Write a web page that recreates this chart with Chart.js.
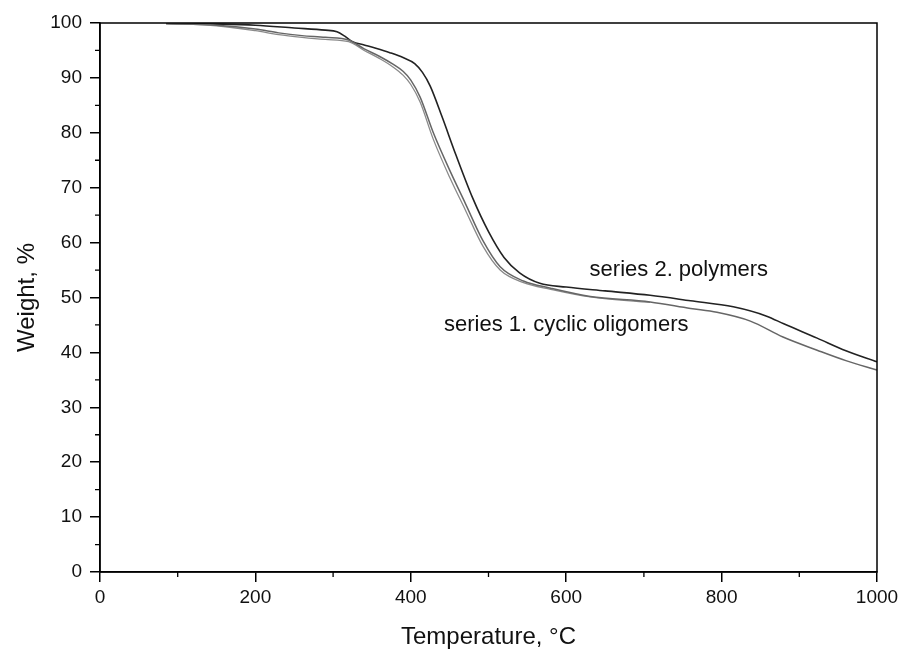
<!DOCTYPE html>
<html>
<head>
<meta charset="utf-8">
<script src="https://cdn.jsdelivr.net/npm/chart.js@4.4.1/dist/chart.umd.min.js"></script>
<style>
html,body{margin:0;padding:0;background:#fff;}
#wrap{width:900px;height:654px;position:relative;}
</style>
</head>
<body>
<div id="wrap"><canvas id="c" width="900" height="654"></canvas></div>
<script>
// Temperature (°C) and weight (%)
const s2Temp = [85,150,200,250,290,305,315,325,340,355,373,390,405,415,425,440,458,480,500,520,540,566,600,650,708,760,815,858,880,923,960,1000];
const s2Weight = [99.9,99.8,99.6,99.1,98.7,98.4,97.6,96.6,96.0,95.4,94.6,93.7,92.6,91.0,88.5,83.0,76.0,68.0,62.0,57.3,54.5,52.6,51.9,51.2,50.4,49.4,48.3,46.6,45.2,42.6,40.3,38.3];

const s1aTemp = [85,150,200,230,260,290,320,340,360,377,390,400,412,429,450,470,493,515,545,580,631,708,760,794,837,879,923,960,1000];
const s1aWeight = [99.9,99.6,98.9,98.2,97.7,97.4,96.9,95.3,93.9,92.5,91.2,89.6,86.5,80.0,73.2,67.2,60.3,55.6,53.0,51.7,50.2,49.2,48.0,47.3,45.7,42.8,40.4,38.5,36.8];

const s1bTemp = [85,150,200,230,260,290,320,340,360,377,390,400,412,429,450,470,493,515,545,580,631,708];
const s1bWeight = [99.9,99.5,98.6,97.9,97.4,97.0,96.6,95.0,93.5,92.0,90.5,88.8,85.6,78.8,71.9,66.0,59.3,55.0,52.7,51.5,50.1,49.1];

const xTicksMajor = [0,200,400,600,800,1000];
const yTicksMajor = [0,10,20,30,40,50,60,70,80,90,100];
const labelTexts = ["series 2. polymers","series 1. cyclic oligomers"];
const labelT = [745,600];
const labelW = [55.0,45.0];

function pts(xs, ys){ return xs.map((x,i)=>({x:x,y:ys[i]})); }

const FAM = '"Liberation Sans", Arial, sans-serif';

const framePlugin = {
  id:'frame',
  afterDraw(chart){
    const {ctx, chartArea:a, scales} = chart;
    ctx.save();
    ctx.strokeStyle = '#000';
    ctx.lineWidth = 1.5;
    ctx.strokeRect(a.left, a.top, a.right-a.left, a.bottom-a.top);
    // minor ticks
    ctx.lineWidth = 1.3;
    ctx.beginPath();
    for(let v=100; v<1000; v+=200){
      const px = scales.x.getPixelForValue(v);
      ctx.moveTo(px, a.bottom); ctx.lineTo(px, a.bottom+5);
    }
    for(let v=5; v<100; v+=10){
      const py = scales.y.getPixelForValue(v);
      ctx.moveTo(a.left, py); ctx.lineTo(a.left-5, py);
    }
    ctx.stroke();
    // annotations
    ctx.fillStyle = '#111';
    ctx.font = '22px ' + FAM;
    ctx.textAlign = 'center';
    ctx.textBaseline = 'middle';
    labelTexts.forEach((t,i)=>{
      ctx.fillText(t, scales.x.getPixelForValue(labelT[i]), scales.y.getPixelForValue(labelW[i]));
    });
    ctx.restore();
  }
};

const tickFont = {family:FAM, size:19};
const titleFont = {family:FAM, size:24};

new Chart(document.getElementById('c'), {
  type:'scatter',
  data:{
    datasets:[
      {label:'series 1a', data:pts(s1aTemp,s1aWeight), showLine:true, borderColor:'#666', borderWidth:1.5, pointRadius:0, cubicInterpolationMode:'monotone', fill:false},
      {label:'series 1b', data:pts(s1bTemp,s1bWeight), showLine:true, borderColor:'#8a8a8a', borderWidth:1.3, pointRadius:0, cubicInterpolationMode:'monotone', fill:false},
      {label:'series 2', data:pts(s2Temp,s2Weight), showLine:true, borderColor:'#222', borderWidth:1.6, pointRadius:0, cubicInterpolationMode:'monotone', fill:false}
    ]
  },
  options:{
    responsive:false,
    animation:false,
    layout:{padding:{left:0,right:23,top:23,bottom:0}},
    plugins:{legend:{display:false}, tooltip:{enabled:false}},
    scales:{
      x:{
        type:'linear', min:0, max:1000,
        afterBuildTicks(s){ s.ticks = xTicksMajor.map(v=>({value:v})); },
        afterFit(s){ s.height = 82; s.paddingRight = 0; s.paddingLeft = 0; },
        ticks:{color:'#111', font:tickFont, padding:4, maxRotation:0, callback:(v)=>String(v)},
        grid:{display:true, drawOnChartArea:false, drawTicks:true, tickLength:10, color:'#000', lineWidth:1.5},
        border:{display:true, color:'#000', width:1.5},
        title:{display:true, text:'Temperature, °C', color:'#111', font:titleFont, padding:{top:0,bottom:2}}
      },
      y:{
        type:'linear', min:0, max:100,
        afterBuildTicks(s){ s.ticks = yTicksMajor.map(v=>({value:v})); },
        afterFit(s){ s.width = 100; s.paddingTop = 0; s.paddingBottom = 0; },
        ticks:{color:'#111', font:tickFont, padding:8, callback:(v)=>String(v)},
        grid:{display:true, drawOnChartArea:false, drawTicks:true, tickLength:10, color:'#000', lineWidth:1.5},
        border:{display:true, color:'#000', width:1.5},
        title:{display:true, text:'Weight, %', color:'#111', font:titleFont, padding:{top:13,bottom:0}}
      }
    }
  },
  plugins:[framePlugin]
});
</script>
</body>
</html>
